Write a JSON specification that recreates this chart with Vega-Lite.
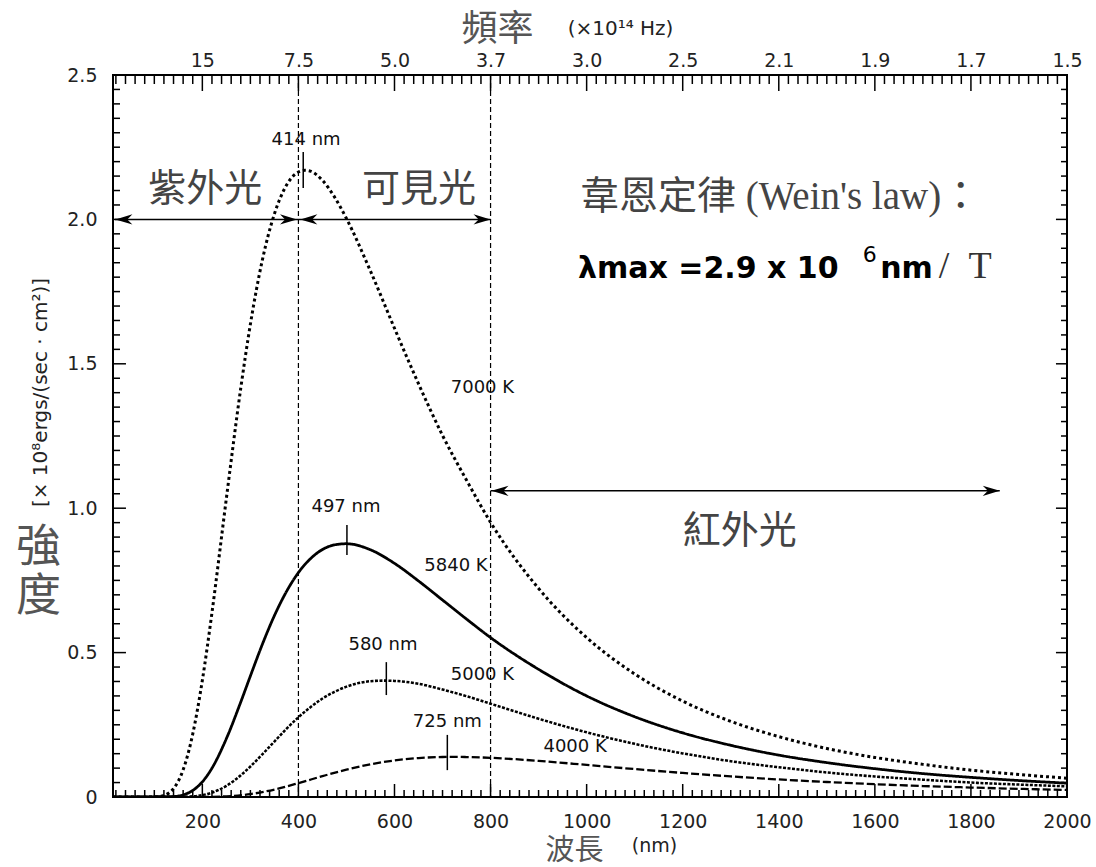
{
  "$schema": "https://vega.github.io/schema/vega-lite/v6.json",
  "width": 954,
  "height": 722,
  "autosize": "none",
  "padding": {"left": 113, "top": 75, "right": 29, "bottom": 70},
  "background": "white",
  "config": {"view": {"stroke": "#000", "strokeWidth": 2}},
  "resolve": {"axis": {"x": "independent", "y": "independent"}},
  "layer": [
    {
      "data": {"values": [
        {"T": "7000 K", "wl": 14, "v": 0}, {"T": "7000 K", "wl": 100, "v": 0.0004}, {"T": "7000 K", "wl": 120, "v": 0.0055}, {"T": "7000 K", "wl": 140, "v": 0.029}, {"T": "7000 K", "wl": 150, "v": 0.055}, {"T": "7000 K", "wl": 160, "v": 0.094}, {"T": "7000 K", "wl": 180, "v": 0.218}, {"T": "7000 K", "wl": 200, "v": 0.404}, {"T": "7000 K", "wl": 220, "v": 0.638}, {"T": "7000 K", "wl": 250, "v": 1.034}, {"T": "7000 K", "wl": 280, "v": 1.416}, {"T": "7000 K", "wl": 300, "v": 1.637}, {"T": "7000 K", "wl": 325, "v": 1.86}, {"T": "7000 K", "wl": 350, "v": 2.019}, {"T": "7000 K", "wl": 375, "v": 2.118}, {"T": "7000 K", "wl": 400, "v": 2.164}, {"T": "7000 K", "wl": 414, "v": 2.17}, {"T": "7000 K", "wl": 425, "v": 2.167}, {"T": "7000 K", "wl": 450, "v": 2.135}, {"T": "7000 K", "wl": 475, "v": 2.078}, {"T": "7000 K", "wl": 500, "v": 2.003}, {"T": "7000 K", "wl": 550, "v": 1.821}, {"T": "7000 K", "wl": 600, "v": 1.623}, {"T": "7000 K", "wl": 650, "v": 1.431}, {"T": "7000 K", "wl": 700, "v": 1.252}, {"T": "7000 K", "wl": 750, "v": 1.097}, {"T": "7000 K", "wl": 800, "v": 0.951}, {"T": "7000 K", "wl": 900, "v": 0.722}, {"T": "7000 K", "wl": 1000, "v": 0.552}, {"T": "7000 K", "wl": 1100, "v": 0.426}, {"T": "7000 K", "wl": 1200, "v": 0.332}, {"T": "7000 K", "wl": 1300, "v": 0.262}, {"T": "7000 K", "wl": 1400, "v": 0.209}, {"T": "7000 K", "wl": 1500, "v": 0.168}, {"T": "7000 K", "wl": 1600, "v": 0.137}, {"T": "7000 K", "wl": 1700, "v": 0.113}, {"T": "7000 K", "wl": 1800, "v": 0.093}, {"T": "7000 K", "wl": 1900, "v": 0.078}, {"T": "7000 K", "wl": 2000, "v": 0.065},
        {"T": "5840 K", "wl": 14, "v": 0}, {"T": "5840 K", "wl": 140, "v": 0.0016}, {"T": "5840 K", "wl": 160, "v": 0.0074}, {"T": "5840 K", "wl": 180, "v": 0.0226}, {"T": "5840 K", "wl": 200, "v": 0.0524}, {"T": "5840 K", "wl": 220, "v": 0.0997}, {"T": "5840 K", "wl": 250, "v": 0.202}, {"T": "5840 K", "wl": 280, "v": 0.329}, {"T": "5840 K", "wl": 300, "v": 0.419}, {"T": "5840 K", "wl": 325, "v": 0.529}, {"T": "5840 K", "wl": 350, "v": 0.628}, {"T": "5840 K", "wl": 375, "v": 0.711}, {"T": "5840 K", "wl": 400, "v": 0.777}, {"T": "5840 K", "wl": 425, "v": 0.825}, {"T": "5840 K", "wl": 450, "v": 0.857}, {"T": "5840 K", "wl": 475, "v": 0.873}, {"T": "5840 K", "wl": 500, "v": 0.877}, {"T": "5840 K", "wl": 550, "v": 0.856}, {"T": "5840 K", "wl": 600, "v": 0.809}, {"T": "5840 K", "wl": 650, "v": 0.748}, {"T": "5840 K", "wl": 700, "v": 0.682}, {"T": "5840 K", "wl": 750, "v": 0.616}, {"T": "5840 K", "wl": 800, "v": 0.552}, {"T": "5840 K", "wl": 900, "v": 0.442}, {"T": "5840 K", "wl": 1000, "v": 0.35}, {"T": "5840 K", "wl": 1100, "v": 0.278}, {"T": "5840 K", "wl": 1200, "v": 0.222}, {"T": "5840 K", "wl": 1300, "v": 0.179}, {"T": "5840 K", "wl": 1400, "v": 0.145}, {"T": "5840 K", "wl": 1500, "v": 0.119}, {"T": "5840 K", "wl": 1600, "v": 0.098}, {"T": "5840 K", "wl": 1700, "v": 0.081}, {"T": "5840 K", "wl": 1800, "v": 0.068}, {"T": "5840 K", "wl": 1900, "v": 0.057}, {"T": "5840 K", "wl": 2000, "v": 0.048},
        {"T": "5000 K", "wl": 14, "v": 0}, {"T": "5000 K", "wl": 160, "v": 0.0006}, {"T": "5000 K", "wl": 180, "v": 0.0023}, {"T": "5000 K", "wl": 200, "v": 0.0066}, {"T": "5000 K", "wl": 220, "v": 0.0152}, {"T": "5000 K", "wl": 250, "v": 0.0386}, {"T": "5000 K", "wl": 280, "v": 0.0751}, {"T": "5000 K", "wl": 300, "v": 0.1055}, {"T": "5000 K", "wl": 325, "v": 0.148}, {"T": "5000 K", "wl": 350, "v": 0.192}, {"T": "5000 K", "wl": 375, "v": 0.236}, {"T": "5000 K", "wl": 400, "v": 0.276}, {"T": "5000 K", "wl": 425, "v": 0.311}, {"T": "5000 K", "wl": 450, "v": 0.341}, {"T": "5000 K", "wl": 475, "v": 0.364}, {"T": "5000 K", "wl": 500, "v": 0.382}, {"T": "5000 K", "wl": 550, "v": 0.401}, {"T": "5000 K", "wl": 580, "v": 0.403}, {"T": "5000 K", "wl": 600, "v": 0.402}, {"T": "5000 K", "wl": 650, "v": 0.392}, {"T": "5000 K", "wl": 700, "v": 0.372}, {"T": "5000 K", "wl": 750, "v": 0.349}, {"T": "5000 K", "wl": 800, "v": 0.323}, {"T": "5000 K", "wl": 900, "v": 0.271}, {"T": "5000 K", "wl": 1000, "v": 0.224}, {"T": "5000 K", "wl": 1100, "v": 0.184}, {"T": "5000 K", "wl": 1200, "v": 0.151}, {"T": "5000 K", "wl": 1300, "v": 0.124}, {"T": "5000 K", "wl": 1400, "v": 0.103}, {"T": "5000 K", "wl": 1500, "v": 0.085}, {"T": "5000 K", "wl": 1600, "v": 0.071}, {"T": "5000 K", "wl": 1700, "v": 0.06}, {"T": "5000 K", "wl": 1800, "v": 0.05}, {"T": "5000 K", "wl": 1900, "v": 0.043}, {"T": "5000 K", "wl": 2000, "v": 0.037},
        {"T": "4000 K", "wl": 14, "v": 0}, {"T": "4000 K", "wl": 200, "v": 0.0002}, {"T": "4000 K", "wl": 250, "v": 0.0023}, {"T": "4000 K", "wl": 300, "v": 0.0101}, {"T": "4000 K", "wl": 350, "v": 0.0258}, {"T": "4000 K", "wl": 400, "v": 0.0479}, {"T": "4000 K", "wl": 450, "v": 0.0722}, {"T": "4000 K", "wl": 500, "v": 0.0948}, {"T": "4000 K", "wl": 550, "v": 0.1133}, {"T": "4000 K", "wl": 600, "v": 0.1266}, {"T": "4000 K", "wl": 650, "v": 0.1348}, {"T": "4000 K", "wl": 700, "v": 0.1385}, {"T": "4000 K", "wl": 725, "v": 0.139}, {"T": "4000 K", "wl": 750, "v": 0.1384}, {"T": "4000 K", "wl": 800, "v": 0.1357}, {"T": "4000 K", "wl": 900, "v": 0.1251}, {"T": "4000 K", "wl": 1000, "v": 0.1111}, {"T": "4000 K", "wl": 1100, "v": 0.0967}, {"T": "4000 K", "wl": 1200, "v": 0.0833}, {"T": "4000 K", "wl": 1300, "v": 0.0712}, {"T": "4000 K", "wl": 1400, "v": 0.0608}, {"T": "4000 K", "wl": 1500, "v": 0.052}, {"T": "4000 K", "wl": 1600, "v": 0.0444}, {"T": "4000 K", "wl": 1700, "v": 0.038}, {"T": "4000 K", "wl": 1800, "v": 0.0328}, {"T": "4000 K", "wl": 1900, "v": 0.0282}, {"T": "4000 K", "wl": 2000, "v": 0.0245}
      ]},
      "mark": {"type": "line", "interpolate": "monotone", "color": "#000", "clip": true},
      "encoding": {
        "x": {"field": "wl", "type": "quantitative", "scale": {"domain": [14, 2000], "nice": false, "zero": false},
          "axis": {"orient": "bottom", "values": [200, 400, 600, 800, 1000, 1200, 1400, 1600, 1800, 2000], "format": "d", "domain": false, "ticks": false, "grid": false, "labelPadding": 15, "labelFont": "DejaVu Sans", "labelFontSize": 19, "labelColor": "#222", "labelFlush": false, "labelOverlap": false, "labelBaseline": "top",
            "title": "波長", "titleFont": "Noto Sans CJK TC", "titleFontSize": 29, "titleFontWeight": "normal", "titleColor": "#555", "titleX": 461, "titleY": 39, "titleAlign": "center", "titleBaseline": "top"}},
        "y": {"field": "v", "type": "quantitative", "scale": {"domain": [0, 2.5], "nice": false},
          "axis": {"orient": "left", "values": [0, 0.5, 1, 1.5, 2, 2.5], "domain": false, "ticks": false, "grid": false, "labelPadding": 16, "labelFont": "DejaVu Sans", "labelFontSize": 19, "labelColor": "#222", "labelFlush": false, "labelOverlap": false, "labelExpr": "datum.value == 0 ? '0' : format(datum.value, '.1f')",
            "title": ["強", "度"], "titleAngle": 0, "titleFont": "Noto Sans CJK TC", "titleFontSize": 45, "titleFontWeight": "normal", "titleColor": "#555", "titleX": -75, "titleY": 472, "titleAlign": "center", "titleBaseline": "middle", "titleLineHeight": 49}},
        "strokeDash": {"field": "T", "type": "nominal", "scale": {"domain": ["7000 K", "5840 K", "5000 K", "4000 K"], "range": [[3, 3], [1, 0], [3, 1.5], [8, 3]]}, "legend": null},
        "strokeWidth": {"field": "T", "type": "ordinal", "scale": {"domain": ["7000 K", "5840 K", "5000 K", "4000 K"], "range": [3, 2.3, 1.3, 3]}, "legend": null}
      }
    },
    {
      "data": {"values": [{"wl": 400}, {"wl": 800}]},
      "mark": {"type": "rule", "color": "#000", "strokeWidth": 1.2, "strokeDash": [5, 3]},
      "encoding": {
        "x": {"field": "wl", "type": "quantitative", "scale": {"domain": [14, 2000], "nice": false, "zero": false},
          "axis": {"orient": "top", "values": [200, 400, 600, 800, 1000, 1200, 1400, 1600, 1800, 2000], "domain": false, "ticks": false, "grid": false, "labelPadding": 5, "labelFont": "DejaVu Sans", "labelFontSize": 19, "labelColor": "#222", "labelFlush": false, "labelOverlap": false, "labelBaseline": "bottom",
            "labelExpr": "datum.value==200?'15':datum.value==400?'7.5':datum.value==600?'5.0':datum.value==800?'3.7':datum.value==1000?'3.0':datum.value==1200?'2.5':datum.value==1400?'2.1':datum.value==1600?'1.9':datum.value==1800?'1.7':'1.5'",
            "title": "頻率", "titleFont": "Noto Sans CJK TC", "titleFontSize": 36, "titleFontWeight": "normal", "titleColor": "#555", "titleX": 384, "titleY": -46, "titleAlign": "center", "titleBaseline": "middle"}}
      }
    },
    {
      "data": {"values": [
        {"wl": 410, "v1": 2.109, "v2": 2.233},
        {"wl": 501, "v1": 0.838, "v2": 0.942},
        {"wl": 583, "v1": 0.353, "v2": 0.467},
        {"wl": 710, "v1": 0.093, "v2": 0.215},
        {"wl": 200, "v1": 0, "v2": 0.045}, {"wl": 400, "v1": 0, "v2": 0.045}, {"wl": 600, "v1": 0, "v2": 0.045}, {"wl": 800, "v1": 0, "v2": 0.045}, {"wl": 1000, "v1": 0, "v2": 0.045}, {"wl": 1200, "v1": 0, "v2": 0.045}, {"wl": 1400, "v1": 0, "v2": 0.045}, {"wl": 1600, "v1": 0, "v2": 0.045}, {"wl": 1800, "v1": 0, "v2": 0.045},
        {"wl": 200, "v1": 2.4446, "v2": 2.5}, {"wl": 400, "v1": 2.4446, "v2": 2.5}, {"wl": 600, "v1": 2.4446, "v2": 2.5}, {"wl": 800, "v1": 2.4446, "v2": 2.5}, {"wl": 1000, "v1": 2.4446, "v2": 2.5}, {"wl": 1200, "v1": 2.4446, "v2": 2.5}, {"wl": 1400, "v1": 2.4446, "v2": 2.5}, {"wl": 1600, "v1": 2.4446, "v2": 2.5}, {"wl": 1800, "v1": 2.4446, "v2": 2.5},
        {"wl": 20, "v1": 0, "v2": 0.0242}, {"wl": 40, "v1": 0, "v2": 0.0242}, {"wl": 60, "v1": 0, "v2": 0.0242}, {"wl": 80, "v1": 0, "v2": 0.0242}, {"wl": 100, "v1": 0, "v2": 0.0242}, {"wl": 120, "v1": 0, "v2": 0.0242}, {"wl": 140, "v1": 0, "v2": 0.0242}, {"wl": 160, "v1": 0, "v2": 0.0242}, {"wl": 180, "v1": 0, "v2": 0.0242},
        {"wl": 220, "v1": 0, "v2": 0.0242}, {"wl": 240, "v1": 0, "v2": 0.0242}, {"wl": 260, "v1": 0, "v2": 0.0242}, {"wl": 280, "v1": 0, "v2": 0.0242}, {"wl": 300, "v1": 0, "v2": 0.0242}, {"wl": 320, "v1": 0, "v2": 0.0242}, {"wl": 340, "v1": 0, "v2": 0.0242}, {"wl": 360, "v1": 0, "v2": 0.0242}, {"wl": 380, "v1": 0, "v2": 0.0242},
        {"wl": 420, "v1": 0, "v2": 0.0242}, {"wl": 440, "v1": 0, "v2": 0.0242}, {"wl": 460, "v1": 0, "v2": 0.0242}, {"wl": 480, "v1": 0, "v2": 0.0242}, {"wl": 500, "v1": 0, "v2": 0.0242}, {"wl": 520, "v1": 0, "v2": 0.0242}, {"wl": 540, "v1": 0, "v2": 0.0242}, {"wl": 560, "v1": 0, "v2": 0.0242}, {"wl": 580, "v1": 0, "v2": 0.0242},
        {"wl": 620, "v1": 0, "v2": 0.0242}, {"wl": 640, "v1": 0, "v2": 0.0242}, {"wl": 660, "v1": 0, "v2": 0.0242}, {"wl": 680, "v1": 0, "v2": 0.0242}, {"wl": 700, "v1": 0, "v2": 0.0242}, {"wl": 720, "v1": 0, "v2": 0.0242}, {"wl": 740, "v1": 0, "v2": 0.0242}, {"wl": 760, "v1": 0, "v2": 0.0242}, {"wl": 780, "v1": 0, "v2": 0.0242},
        {"wl": 820, "v1": 0, "v2": 0.0242}, {"wl": 840, "v1": 0, "v2": 0.0242}, {"wl": 860, "v1": 0, "v2": 0.0242}, {"wl": 880, "v1": 0, "v2": 0.0242}, {"wl": 900, "v1": 0, "v2": 0.0242}, {"wl": 920, "v1": 0, "v2": 0.0242}, {"wl": 940, "v1": 0, "v2": 0.0242}, {"wl": 960, "v1": 0, "v2": 0.0242}, {"wl": 980, "v1": 0, "v2": 0.0242},
        {"wl": 1020, "v1": 0, "v2": 0.0242}, {"wl": 1040, "v1": 0, "v2": 0.0242}, {"wl": 1060, "v1": 0, "v2": 0.0242}, {"wl": 1080, "v1": 0, "v2": 0.0242}, {"wl": 1100, "v1": 0, "v2": 0.0242}, {"wl": 1120, "v1": 0, "v2": 0.0242}, {"wl": 1140, "v1": 0, "v2": 0.0242}, {"wl": 1160, "v1": 0, "v2": 0.0242}, {"wl": 1180, "v1": 0, "v2": 0.0242},
        {"wl": 1220, "v1": 0, "v2": 0.0242}, {"wl": 1240, "v1": 0, "v2": 0.0242}, {"wl": 1260, "v1": 0, "v2": 0.0242}, {"wl": 1280, "v1": 0, "v2": 0.0242}, {"wl": 1300, "v1": 0, "v2": 0.0242}, {"wl": 1320, "v1": 0, "v2": 0.0242}, {"wl": 1340, "v1": 0, "v2": 0.0242}, {"wl": 1360, "v1": 0, "v2": 0.0242}, {"wl": 1380, "v1": 0, "v2": 0.0242},
        {"wl": 1420, "v1": 0, "v2": 0.0242}, {"wl": 1440, "v1": 0, "v2": 0.0242}, {"wl": 1460, "v1": 0, "v2": 0.0242}, {"wl": 1480, "v1": 0, "v2": 0.0242}, {"wl": 1500, "v1": 0, "v2": 0.0242}, {"wl": 1520, "v1": 0, "v2": 0.0242}, {"wl": 1540, "v1": 0, "v2": 0.0242}, {"wl": 1560, "v1": 0, "v2": 0.0242}, {"wl": 1580, "v1": 0, "v2": 0.0242},
        {"wl": 1620, "v1": 0, "v2": 0.0242}, {"wl": 1640, "v1": 0, "v2": 0.0242}, {"wl": 1660, "v1": 0, "v2": 0.0242}, {"wl": 1680, "v1": 0, "v2": 0.0242}, {"wl": 1700, "v1": 0, "v2": 0.0242}, {"wl": 1720, "v1": 0, "v2": 0.0242}, {"wl": 1740, "v1": 0, "v2": 0.0242}, {"wl": 1760, "v1": 0, "v2": 0.0242}, {"wl": 1780, "v1": 0, "v2": 0.0242},
        {"wl": 1820, "v1": 0, "v2": 0.0242}, {"wl": 1840, "v1": 0, "v2": 0.0242}, {"wl": 1860, "v1": 0, "v2": 0.0242}, {"wl": 1880, "v1": 0, "v2": 0.0242}, {"wl": 1900, "v1": 0, "v2": 0.0242}, {"wl": 1920, "v1": 0, "v2": 0.0242}, {"wl": 1940, "v1": 0, "v2": 0.0242}, {"wl": 1960, "v1": 0, "v2": 0.0242}, {"wl": 1980, "v1": 0, "v2": 0.0242},
        {"wl": 20, "v1": 2.4688, "v2": 2.5}, {"wl": 40, "v1": 2.4688, "v2": 2.5}, {"wl": 60, "v1": 2.4688, "v2": 2.5}, {"wl": 80, "v1": 2.4688, "v2": 2.5}, {"wl": 100, "v1": 2.4688, "v2": 2.5}, {"wl": 120, "v1": 2.4688, "v2": 2.5}, {"wl": 140, "v1": 2.4688, "v2": 2.5}, {"wl": 160, "v1": 2.4688, "v2": 2.5}, {"wl": 180, "v1": 2.4688, "v2": 2.5},
        {"wl": 220, "v1": 2.4688, "v2": 2.5}, {"wl": 240, "v1": 2.4688, "v2": 2.5}, {"wl": 260, "v1": 2.4688, "v2": 2.5}, {"wl": 280, "v1": 2.4688, "v2": 2.5}, {"wl": 300, "v1": 2.4688, "v2": 2.5}, {"wl": 320, "v1": 2.4688, "v2": 2.5}, {"wl": 340, "v1": 2.4688, "v2": 2.5}, {"wl": 360, "v1": 2.4688, "v2": 2.5}, {"wl": 380, "v1": 2.4688, "v2": 2.5},
        {"wl": 420, "v1": 2.4688, "v2": 2.5}, {"wl": 440, "v1": 2.4688, "v2": 2.5}, {"wl": 460, "v1": 2.4688, "v2": 2.5}, {"wl": 480, "v1": 2.4688, "v2": 2.5}, {"wl": 500, "v1": 2.4688, "v2": 2.5}, {"wl": 520, "v1": 2.4688, "v2": 2.5}, {"wl": 540, "v1": 2.4688, "v2": 2.5}, {"wl": 560, "v1": 2.4688, "v2": 2.5}, {"wl": 580, "v1": 2.4688, "v2": 2.5},
        {"wl": 620, "v1": 2.4688, "v2": 2.5}, {"wl": 640, "v1": 2.4688, "v2": 2.5}, {"wl": 660, "v1": 2.4688, "v2": 2.5}, {"wl": 680, "v1": 2.4688, "v2": 2.5}, {"wl": 700, "v1": 2.4688, "v2": 2.5}, {"wl": 720, "v1": 2.4688, "v2": 2.5}, {"wl": 740, "v1": 2.4688, "v2": 2.5}, {"wl": 760, "v1": 2.4688, "v2": 2.5}, {"wl": 780, "v1": 2.4688, "v2": 2.5},
        {"wl": 820, "v1": 2.4688, "v2": 2.5}, {"wl": 840, "v1": 2.4688, "v2": 2.5}, {"wl": 860, "v1": 2.4688, "v2": 2.5}, {"wl": 880, "v1": 2.4688, "v2": 2.5}, {"wl": 900, "v1": 2.4688, "v2": 2.5}, {"wl": 920, "v1": 2.4688, "v2": 2.5}, {"wl": 940, "v1": 2.4688, "v2": 2.5}, {"wl": 960, "v1": 2.4688, "v2": 2.5}, {"wl": 980, "v1": 2.4688, "v2": 2.5},
        {"wl": 1020, "v1": 2.4688, "v2": 2.5}, {"wl": 1040, "v1": 2.4688, "v2": 2.5}, {"wl": 1060, "v1": 2.4688, "v2": 2.5}, {"wl": 1080, "v1": 2.4688, "v2": 2.5}, {"wl": 1100, "v1": 2.4688, "v2": 2.5}, {"wl": 1120, "v1": 2.4688, "v2": 2.5}, {"wl": 1140, "v1": 2.4688, "v2": 2.5}, {"wl": 1160, "v1": 2.4688, "v2": 2.5}, {"wl": 1180, "v1": 2.4688, "v2": 2.5},
        {"wl": 1220, "v1": 2.4688, "v2": 2.5}, {"wl": 1240, "v1": 2.4688, "v2": 2.5}, {"wl": 1260, "v1": 2.4688, "v2": 2.5}, {"wl": 1280, "v1": 2.4688, "v2": 2.5}, {"wl": 1300, "v1": 2.4688, "v2": 2.5}, {"wl": 1320, "v1": 2.4688, "v2": 2.5}, {"wl": 1340, "v1": 2.4688, "v2": 2.5}, {"wl": 1360, "v1": 2.4688, "v2": 2.5}, {"wl": 1380, "v1": 2.4688, "v2": 2.5},
        {"wl": 1420, "v1": 2.4688, "v2": 2.5}, {"wl": 1440, "v1": 2.4688, "v2": 2.5}, {"wl": 1460, "v1": 2.4688, "v2": 2.5}, {"wl": 1480, "v1": 2.4688, "v2": 2.5}, {"wl": 1500, "v1": 2.4688, "v2": 2.5}, {"wl": 1520, "v1": 2.4688, "v2": 2.5}, {"wl": 1540, "v1": 2.4688, "v2": 2.5}, {"wl": 1560, "v1": 2.4688, "v2": 2.5}, {"wl": 1580, "v1": 2.4688, "v2": 2.5},
        {"wl": 1620, "v1": 2.4688, "v2": 2.5}, {"wl": 1640, "v1": 2.4688, "v2": 2.5}, {"wl": 1660, "v1": 2.4688, "v2": 2.5}, {"wl": 1680, "v1": 2.4688, "v2": 2.5}, {"wl": 1700, "v1": 2.4688, "v2": 2.5}, {"wl": 1720, "v1": 2.4688, "v2": 2.5}, {"wl": 1740, "v1": 2.4688, "v2": 2.5}, {"wl": 1760, "v1": 2.4688, "v2": 2.5}, {"wl": 1780, "v1": 2.4688, "v2": 2.5},
        {"wl": 1820, "v1": 2.4688, "v2": 2.5}, {"wl": 1840, "v1": 2.4688, "v2": 2.5}, {"wl": 1860, "v1": 2.4688, "v2": 2.5}, {"wl": 1880, "v1": 2.4688, "v2": 2.5}, {"wl": 1900, "v1": 2.4688, "v2": 2.5}, {"wl": 1920, "v1": 2.4688, "v2": 2.5}, {"wl": 1940, "v1": 2.4688, "v2": 2.5}, {"wl": 1960, "v1": 2.4688, "v2": 2.5}, {"wl": 1980, "v1": 2.4688, "v2": 2.5}
      ]},
      "mark": {"type": "rule", "color": "#000", "strokeWidth": 1.5},
      "encoding": {
        "x": {"field": "wl", "type": "quantitative", "scale": {"domain": [14, 2000], "nice": false, "zero": false},
          "axis": {"orient": "bottom", "values": [1000], "domain": false, "labels": false, "ticks": false, "grid": false,
            "title": "(nm)", "titleFont": "DejaVu Sans", "titleFontSize": 19, "titleFontWeight": "normal", "titleColor": "#222", "titleX": 541, "titleY": 48, "titleAlign": "center", "titleBaseline": "middle"}},
        "y": {"field": "v1", "type": "quantitative", "scale": {"domain": [0, 2.5], "nice": false},
          "axis": {"orient": "left", "values": [1], "domain": false, "labels": false, "ticks": false, "grid": false,
            "title": "[× 10⁸ergs/(sec · cm²)]", "titleAngle": 270, "titleFont": "DejaVu Sans", "titleFontSize": 20, "titleFontWeight": "normal", "titleColor": "#222", "titleX": -73, "titleY": 317, "titleAlign": "center", "titleBaseline": "middle"}},
        "y2": {"field": "v2"}
      }
    },
    {
      "data": {"values": [
        {"wl1": 18, "wl2": 400, "v": 2.0},
        {"wl1": 400, "wl2": 800, "v": 2.0},
        {"wl1": 800, "wl2": 1860, "v": 1.06},
        {"wl1": 14, "wl2": 41, "v": 0.5}, {"wl1": 14, "wl2": 41, "v": 1.0}, {"wl1": 14, "wl2": 41, "v": 1.5}, {"wl1": 14, "wl2": 41, "v": 2.0},
        {"wl1": 1977, "wl2": 2000, "v": 0.5}, {"wl1": 1977, "wl2": 2000, "v": 1.0}, {"wl1": 1977, "wl2": 2000, "v": 1.5}, {"wl1": 1977, "wl2": 2000, "v": 2.0},
        {"wl1": 14, "wl2": 28.6, "v": 0.05}, {"wl1": 14, "wl2": 28.6, "v": 0.1}, {"wl1": 14, "wl2": 28.6, "v": 0.15}, {"wl1": 14, "wl2": 28.6, "v": 0.2}, {"wl1": 14, "wl2": 28.6, "v": 0.25}, {"wl1": 14, "wl2": 28.6, "v": 0.3}, {"wl1": 14, "wl2": 28.6, "v": 0.35}, {"wl1": 14, "wl2": 28.6, "v": 0.4}, {"wl1": 14, "wl2": 28.6, "v": 0.45},
        {"wl1": 14, "wl2": 28.6, "v": 0.55}, {"wl1": 14, "wl2": 28.6, "v": 0.6}, {"wl1": 14, "wl2": 28.6, "v": 0.65}, {"wl1": 14, "wl2": 28.6, "v": 0.7}, {"wl1": 14, "wl2": 28.6, "v": 0.75}, {"wl1": 14, "wl2": 28.6, "v": 0.8}, {"wl1": 14, "wl2": 28.6, "v": 0.85}, {"wl1": 14, "wl2": 28.6, "v": 0.9}, {"wl1": 14, "wl2": 28.6, "v": 0.95},
        {"wl1": 14, "wl2": 28.6, "v": 1.05}, {"wl1": 14, "wl2": 28.6, "v": 1.1}, {"wl1": 14, "wl2": 28.6, "v": 1.15}, {"wl1": 14, "wl2": 28.6, "v": 1.2}, {"wl1": 14, "wl2": 28.6, "v": 1.25}, {"wl1": 14, "wl2": 28.6, "v": 1.3}, {"wl1": 14, "wl2": 28.6, "v": 1.35}, {"wl1": 14, "wl2": 28.6, "v": 1.4}, {"wl1": 14, "wl2": 28.6, "v": 1.45},
        {"wl1": 14, "wl2": 28.6, "v": 1.55}, {"wl1": 14, "wl2": 28.6, "v": 1.6}, {"wl1": 14, "wl2": 28.6, "v": 1.65}, {"wl1": 14, "wl2": 28.6, "v": 1.7}, {"wl1": 14, "wl2": 28.6, "v": 1.75}, {"wl1": 14, "wl2": 28.6, "v": 1.8}, {"wl1": 14, "wl2": 28.6, "v": 1.85}, {"wl1": 14, "wl2": 28.6, "v": 1.9}, {"wl1": 14, "wl2": 28.6, "v": 1.95},
        {"wl1": 14, "wl2": 28.6, "v": 2.05}, {"wl1": 14, "wl2": 28.6, "v": 2.1}, {"wl1": 14, "wl2": 28.6, "v": 2.15}, {"wl1": 14, "wl2": 28.6, "v": 2.2}, {"wl1": 14, "wl2": 28.6, "v": 2.25}, {"wl1": 14, "wl2": 28.6, "v": 2.3}, {"wl1": 14, "wl2": 28.6, "v": 2.35}, {"wl1": 14, "wl2": 28.6, "v": 2.4}, {"wl1": 14, "wl2": 28.6, "v": 2.45},
        {"wl1": 1987.5, "wl2": 2000, "v": 0.05}, {"wl1": 1987.5, "wl2": 2000, "v": 0.1}, {"wl1": 1987.5, "wl2": 2000, "v": 0.15}, {"wl1": 1987.5, "wl2": 2000, "v": 0.2}, {"wl1": 1987.5, "wl2": 2000, "v": 0.25}, {"wl1": 1987.5, "wl2": 2000, "v": 0.3}, {"wl1": 1987.5, "wl2": 2000, "v": 0.35}, {"wl1": 1987.5, "wl2": 2000, "v": 0.4}, {"wl1": 1987.5, "wl2": 2000, "v": 0.45},
        {"wl1": 1987.5, "wl2": 2000, "v": 0.55}, {"wl1": 1987.5, "wl2": 2000, "v": 0.6}, {"wl1": 1987.5, "wl2": 2000, "v": 0.65}, {"wl1": 1987.5, "wl2": 2000, "v": 0.7}, {"wl1": 1987.5, "wl2": 2000, "v": 0.75}, {"wl1": 1987.5, "wl2": 2000, "v": 0.8}, {"wl1": 1987.5, "wl2": 2000, "v": 0.85}, {"wl1": 1987.5, "wl2": 2000, "v": 0.9}, {"wl1": 1987.5, "wl2": 2000, "v": 0.95},
        {"wl1": 1987.5, "wl2": 2000, "v": 1.05}, {"wl1": 1987.5, "wl2": 2000, "v": 1.1}, {"wl1": 1987.5, "wl2": 2000, "v": 1.15}, {"wl1": 1987.5, "wl2": 2000, "v": 1.2}, {"wl1": 1987.5, "wl2": 2000, "v": 1.25}, {"wl1": 1987.5, "wl2": 2000, "v": 1.3}, {"wl1": 1987.5, "wl2": 2000, "v": 1.35}, {"wl1": 1987.5, "wl2": 2000, "v": 1.4}, {"wl1": 1987.5, "wl2": 2000, "v": 1.45},
        {"wl1": 1987.5, "wl2": 2000, "v": 1.55}, {"wl1": 1987.5, "wl2": 2000, "v": 1.6}, {"wl1": 1987.5, "wl2": 2000, "v": 1.65}, {"wl1": 1987.5, "wl2": 2000, "v": 1.7}, {"wl1": 1987.5, "wl2": 2000, "v": 1.75}, {"wl1": 1987.5, "wl2": 2000, "v": 1.8}, {"wl1": 1987.5, "wl2": 2000, "v": 1.85}, {"wl1": 1987.5, "wl2": 2000, "v": 1.9}, {"wl1": 1987.5, "wl2": 2000, "v": 1.95},
        {"wl1": 1987.5, "wl2": 2000, "v": 2.05}, {"wl1": 1987.5, "wl2": 2000, "v": 2.1}, {"wl1": 1987.5, "wl2": 2000, "v": 2.15}, {"wl1": 1987.5, "wl2": 2000, "v": 2.2}, {"wl1": 1987.5, "wl2": 2000, "v": 2.25}, {"wl1": 1987.5, "wl2": 2000, "v": 2.3}, {"wl1": 1987.5, "wl2": 2000, "v": 2.35}, {"wl1": 1987.5, "wl2": 2000, "v": 2.4}, {"wl1": 1987.5, "wl2": 2000, "v": 2.45}
      ]},
      "mark": {"type": "rule", "color": "#000", "strokeWidth": 1.5},
      "encoding": {
        "x": {"field": "wl1", "type": "quantitative", "scale": {"domain": [14, 2000], "nice": false, "zero": false},
          "axis": {"orient": "top", "values": [1000], "domain": false, "labels": false, "ticks": false, "grid": false,
            "title": "(×10¹⁴ Hz)", "titleFont": "DejaVu Sans", "titleFontSize": 20, "titleFontWeight": "normal", "titleColor": "#222", "titleX": 507, "titleY": -47, "titleAlign": "center", "titleBaseline": "middle"}},
        "x2": {"field": "wl2"},
        "y": {"field": "v", "type": "quantitative", "scale": {"domain": [0, 2.5], "nice": false}, "axis": null}
      }
    },
    {
      "data": {"values": [
        {"wl": 19, "v": 2.0, "dir": "left"},
        {"wl": 397, "v": 2.0, "dir": "right"},
        {"wl": 404, "v": 2.0, "dir": "left"},
        {"wl": 800, "v": 2.0, "dir": "right"},
        {"wl": 802, "v": 1.06, "dir": "left"},
        {"wl": 1860, "v": 1.06, "dir": "right"}
      ]},
      "mark": {"type": "point", "filled": true, "color": "#000", "opacity": 1, "size": 289},
      "encoding": {
        "x": {"field": "wl", "type": "quantitative", "scale": {"domain": [14, 2000], "nice": false, "zero": false}, "axis": null},
        "y": {"field": "v", "type": "quantitative", "scale": {"domain": [0, 2.5], "nice": false}, "axis": null},
        "shape": {"field": "dir", "type": "nominal", "scale": {"domain": ["left", "right"], "range": ["M0,0 L2,-0.6 L1.4,0 L2,0.6 Z", "M0,0 L-2,-0.6 L-1.4,0 L-2,0.6 Z"]}, "legend": null}
      }
    },
    {
      "data": {"values": [
        {"text": "414 nm", "wl": 416, "v": 2.275},
        {"text": "7000 K", "wl": 783, "v": 1.416},
        {"text": "497 nm", "wl": 499, "v": 1.004},
        {"text": "5840 K", "wl": 728, "v": 0.8},
        {"text": "580 nm", "wl": 576, "v": 0.526},
        {"text": "5000 K", "wl": 783, "v": 0.422},
        {"text": "725 nm", "wl": 710, "v": 0.26},
        {"text": "4000 K", "wl": 976, "v": 0.173}
      ]},
      "mark": {"type": "text", "font": "DejaVu Sans", "fontSize": 18, "color": "#111", "align": "center", "baseline": "middle"},
      "encoding": {
        "x": {"field": "wl", "type": "quantitative", "scale": {"domain": [14, 2000], "nice": false, "zero": false}, "axis": null},
        "y": {"field": "v", "type": "quantitative", "scale": {"domain": [0, 2.5], "nice": false}, "axis": null},
        "text": {"field": "text"}
      }
    },
    {
      "data": {"values": [
        {"text": "紫外光", "wl": 206, "v": 2.102},
        {"text": "可見光", "wl": 651, "v": 2.102},
        {"text": "紅外光", "wl": 1319, "v": 0.918}
      ]},
      "mark": {"type": "text", "font": "Noto Sans CJK TC", "fontSize": 38, "color": "#444", "align": "center", "baseline": "middle"},
      "encoding": {
        "x": {"field": "wl", "type": "quantitative", "scale": {"domain": [14, 2000], "nice": false, "zero": false}, "axis": null},
        "y": {"field": "v", "type": "quantitative", "scale": {"domain": [0, 2.5], "nice": false}, "axis": null},
        "text": {"field": "text"}
      }
    },
    {
      "data": {"values": [{"text": "韋恩定律 (Wein's law)：", "wl": 986, "v": 2.078}]},
      "mark": {"type": "text", "font": "Liberation Serif, Noto Sans CJK TC", "fontSize": 39, "color": "#444", "align": "left", "baseline": "middle"},
      "encoding": {
        "x": {"field": "wl", "type": "quantitative", "scale": {"domain": [14, 2000], "nice": false, "zero": false}, "axis": null},
        "y": {"field": "v", "type": "quantitative", "scale": {"domain": [0, 2.5], "nice": false}, "axis": null},
        "text": {"field": "text"}
      }
    },
    {
      "data": {"values": [
        {"text": "λmax =2.9 x 10", "wl": 982, "v": 1.797},
        {"text": "nm", "wl": 1611, "v": 1.797}
      ]},
      "mark": {"type": "text", "font": "DejaVu Sans", "fontSize": 30, "fontWeight": "bold", "color": "#000", "align": "left", "baseline": "alphabetic"},
      "encoding": {
        "x": {"field": "wl", "type": "quantitative", "scale": {"domain": [14, 2000], "nice": false, "zero": false}, "axis": null},
        "y": {"field": "v", "type": "quantitative", "scale": {"domain": [0, 2.5], "nice": false}, "axis": null},
        "text": {"field": "text"}
      }
    },
    {
      "data": {"values": [{"text": "6", "wl": 1575, "v": 1.852}]},
      "mark": {"type": "text", "font": "DejaVu Sans", "fontSize": 22, "color": "#000", "align": "left", "baseline": "alphabetic"},
      "encoding": {
        "x": {"field": "wl", "type": "quantitative", "scale": {"domain": [14, 2000], "nice": false, "zero": false}, "axis": null},
        "y": {"field": "v", "type": "quantitative", "scale": {"domain": [0, 2.5], "nice": false}, "axis": null},
        "text": {"field": "text"}
      }
    },
    {
      "data": {"values": [
        {"text": "/", "wl": 1733, "v": 1.797},
        {"text": "T", "wl": 1795, "v": 1.797}
      ]},
      "mark": {"type": "text", "font": "Liberation Serif", "fontSize": 38, "color": "#333", "align": "left", "baseline": "alphabetic"},
      "encoding": {
        "x": {"field": "wl", "type": "quantitative", "scale": {"domain": [14, 2000], "nice": false, "zero": false}, "axis": null},
        "y": {"field": "v", "type": "quantitative", "scale": {"domain": [0, 2.5], "nice": false}, "axis": null},
        "text": {"field": "text"}
      }
    }
  ]
}
